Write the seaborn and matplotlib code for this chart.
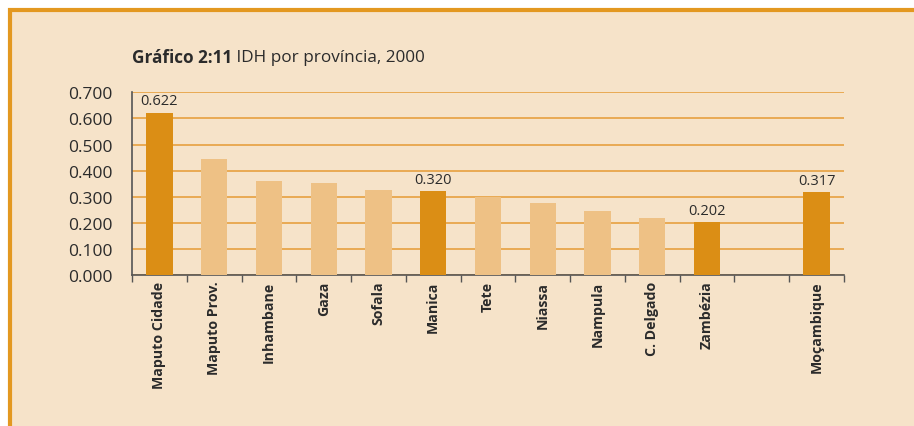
import matplotlib
matplotlib.use("Agg")
import matplotlib.pyplot as plt
import seaborn as sns
import pandas as pd
import numpy as np
from matplotlib.patches import Rectangle

# ---- data ----
provinces = ["Maputo Cidade", "Maputo Prov.", "Inhambane", "Gaza", "Sofala",
             "Manica", "Tete", "Niassa", "Nampula", "C. Delgado", "Zambézia",
             " ", "Moçambique"]
idh = [0.622, 0.443, 0.362, 0.353, 0.327, 0.320, 0.300, 0.274, 0.247, 0.220,
       0.202, np.nan, 0.317]
highlight = [True, False, False, False, False, True, False, False, False,
             False, True, False, True]
value_labels = ["0.622", "", "", "", "", "0.320", "", "", "", "", "0.202",
                "", "0.317"]
yticks = [0.0, 0.1, 0.2, 0.3, 0.4, 0.5, 0.6, 0.7]
ytick_labels = ["0.000", "0.100", "0.200", "0.300", "0.400", "0.500",
                "0.600", "0.700"]
title_bold = "Gráfico 2:11"
title_rest = " IDH por província, 2000"

# ---- style ----
BG = "#F6E3C9"
DARK = "#DB8E15"
LIGHT = "#EEC185"
GRID = "#E8A64A"
BORDER = "#E39820"
TEXT = "#2b2b2b"
AXIS = "#555555"

sns.set_theme(style="white")
plt.rcParams["font.family"] = ["Open Sans", "DejaVu Sans"]

W, H = 914, 427
fig = plt.figure(figsize=(W / 100, H / 100), dpi=100)
fig.patch.set_facecolor("white")
# background panel with orange border (top & left visible)
panel = Rectangle((9.5 / W, -0.05), 1.1, (H - 10.5) / H + 0.05,
                  transform=fig.transFigure, facecolor=BG,
                  edgecolor=BORDER, linewidth=3, zorder=-10)
fig.patches.append(panel)

ax = fig.add_axes([132 / W, (H - 276) / H, (844 - 132) / W, (276 - 93.3) / H])
ax.set_zorder(5)
ax.patch.set_alpha(0)

df = pd.DataFrame({"prov": provinces, "idh": idh,
                   "grp": ["dark" if h else "light" for h in highlight]})
sns.barplot(data=df, x="prov", y="idh", hue="grp", order=provinces,
            palette={"dark": DARK, "light": LIGHT}, dodge=False,
            width=0.48, legend=False, ax=ax, zorder=3, saturation=1,
            linewidth=0, edgecolor="none")

ax.set_xlim(-0.5, len(provinces) - 0.5)
ax.set_ylim(0, 0.7)
ax.set_yticks(yticks)
ax.set_yticklabels(ytick_labels, fontsize=12.5, color=TEXT)
ax.tick_params(axis="y", length=0, pad=14)
ax.yaxis.grid(True, color=GRID, linewidth=1.3, zorder=0)
ax.set_axisbelow(True)

ax.set_xticks(range(len(provinces)))
ax.set_xticklabels(provinces, rotation=90, fontsize=10.2, fontweight="bold",
                   color=TEXT, va="top")
ax.tick_params(axis="x", length=0, pad=4)
ax.set_xticks(np.arange(-0.5, len(provinces), 1.0), minor=True)
ax.tick_params(axis="x", which="minor", length=5, width=1, color=AXIS,
               direction="out", bottom=True)
ax.set_xlabel("")
ax.set_ylabel("")

for s in ["top", "right"]:
    ax.spines[s].set_visible(False)
for s in ["left", "bottom"]:
    ax.spines[s].set_color(AXIS)
    ax.spines[s].set_linewidth(1.2)

for i, (v, lab) in enumerate(zip(idh, value_labels)):
    if lab:
        ax.annotate(lab, (i, v), xytext=(0, 3), textcoords="offset points",
                    ha="center", va="bottom", fontsize=10.5, color=TEXT)

# title
t1 = fig.text(132 / W, (H - 58) / H, title_bold, fontsize=12.3,
              fontweight="bold", color=TEXT, va="center", ha="left")
fig.canvas.draw()
bb = t1.get_window_extent()
fig.text(bb.x1 / W, (H - 58) / H, title_rest, fontsize=12.3, color=TEXT,
         va="center", ha="left")

fig.savefig("out.png", dpi=100, facecolor=fig.get_facecolor())
